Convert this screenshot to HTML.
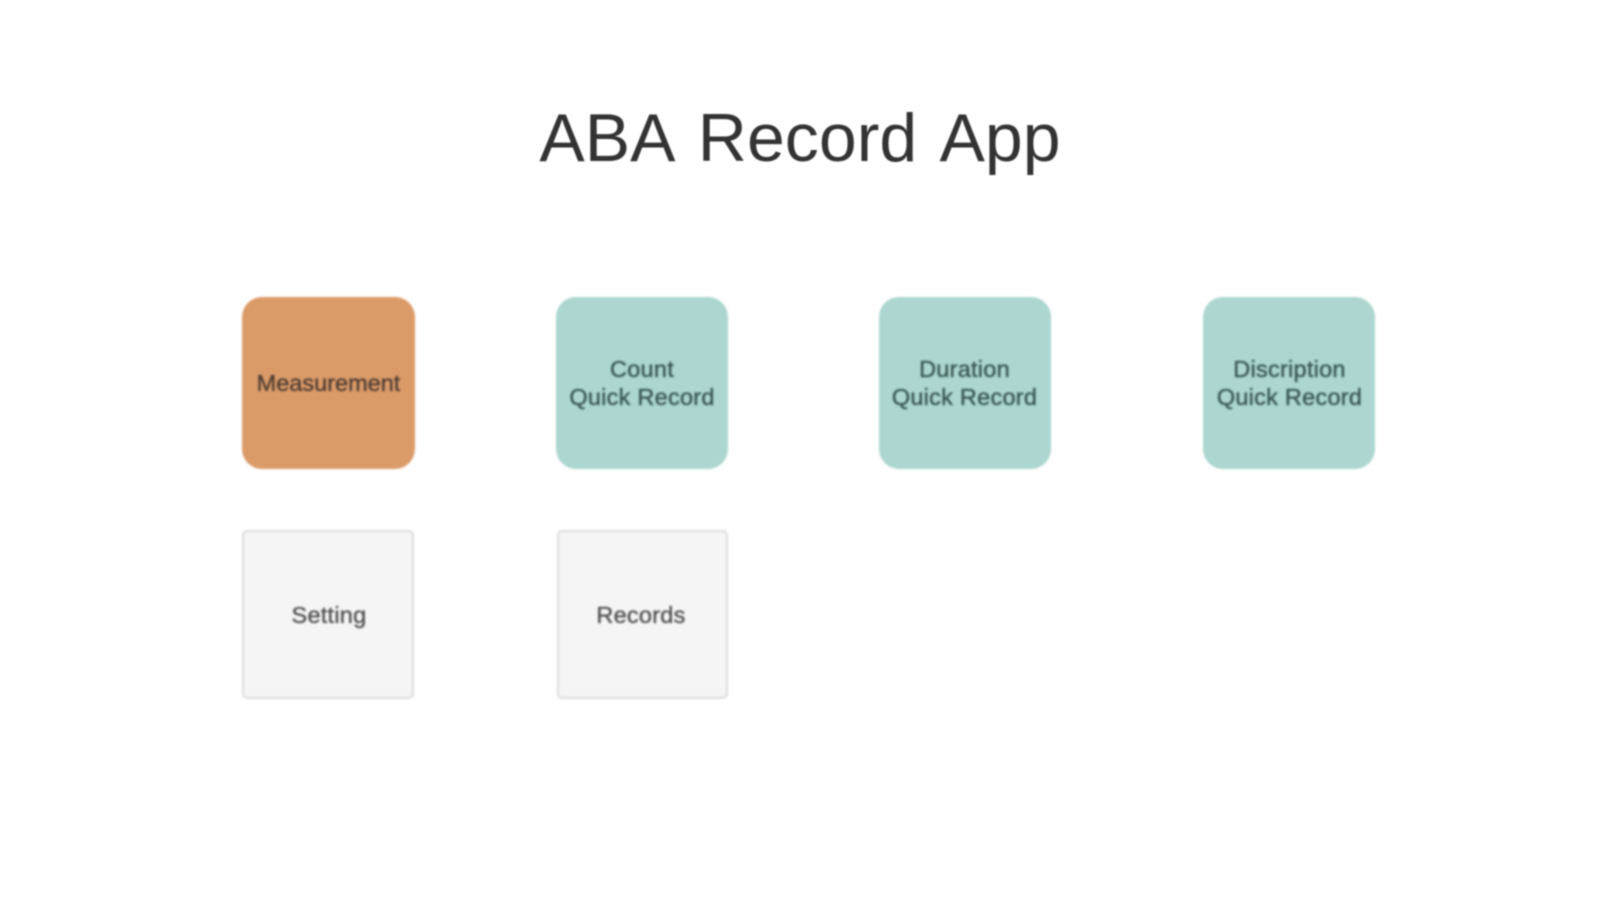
<!DOCTYPE html>
<html>
<head>
<meta charset="utf-8">
<style>
html,body{margin:0;padding:0;background:#fff;width:1599px;height:900px;overflow:hidden}
svg{display:block}
text{font-family:"Liberation Sans",Arial,sans-serif;text-anchor:middle}
.shapes{filter:blur(1px)}
.labels{filter:blur(1.1px)}
.lb{font-size:23.5px;letter-spacing:.25px;stroke-width:.3px}
.t{font-size:68px;word-spacing:7px;letter-spacing:.05px;filter:blur(.8px)}
</style>
</head>
<body>
<svg width="1599" height="900" viewBox="0 0 1599 900" xmlns="http://www.w3.org/2000/svg">
<rect width="1599" height="900" fill="#fff"/>
<g class="shapes">
<rect x="242" y="297" width="173" height="172" rx="20" fill="#db9b69"/>
<rect x="556" y="297" width="172" height="172" rx="20" fill="#acd6cf"/>
<rect x="879" y="297" width="172" height="172" rx="20" fill="#acd6cf"/>
<rect x="1203" y="297" width="172" height="172" rx="20" fill="#acd6cf"/>
<rect x="243" y="531" width="170" height="167" rx="4" fill="#f5f5f5" stroke="#dcdcdc" stroke-width="2"/>
<rect x="558" y="531" width="169" height="167" rx="4" fill="#f5f5f5" stroke="#dcdcdc" stroke-width="2"/>
</g>
<text class="t" x="800" y="161" fill="#333333">ABA Record App</text>
<g class="labels">
<text class="lb" x="328.500" y="391" fill="#4a3a30" stroke="#4a3a30" style="letter-spacing:0">Measurement</text>
<text class="lb" x="642" y="377" fill="#33504c" stroke="#33504c">Count</text>
<text class="lb" x="642" y="405" fill="#33504c" stroke="#33504c">Quick Record</text>
<text class="lb" x="964.500" y="377" fill="#33504c" stroke="#33504c">Duration</text>
<text class="lb" x="964.500" y="405" fill="#33504c" stroke="#33504c">Quick Record</text>
<text class="lb" x="1289.500" y="377" fill="#33504c" stroke="#33504c">Discription</text>
<text class="lb" x="1289.500" y="405" fill="#33504c" stroke="#33504c">Quick Record</text>
<text class="lb" x="329" y="623" fill="#4a4a4a" stroke="#4a4a4a">Setting</text>
<text class="lb" x="641" y="623" fill="#4a4a4a" stroke="#4a4a4a">Records</text>
</g>
</svg>
</body>
</html>
